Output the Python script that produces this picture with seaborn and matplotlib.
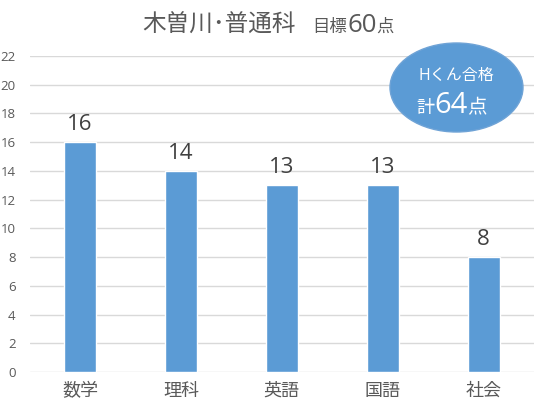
import matplotlib
matplotlib.use("Agg")
import matplotlib.pyplot as plt
from matplotlib.patches import Ellipse
import pandas as pd
import seaborn as sns

subjects = ["数学", "理科", "英語", "国語", "社会"]
scores = [16, 14, 13, 13, 8]
y_ticks = list(range(0, 23, 2))

sns.set_theme(style="whitegrid")
plt.rcParams["font.family"] = ["Open Sans", "Noto Sans CJK JP", "DejaVu Sans"]

W, H = 550, 411
df = pd.DataFrame({"subject": subjects, "score": scores})

fig = plt.figure(figsize=(W / 100, H / 100), dpi=100)
# plot area in pixels: x 29.5..534, y 56..372
ax = fig.add_axes([29.5 / W, 1 - 372 / H, (534 - 29.5) / W, (372 - 56) / H])

sns.barplot(data=df, x="subject", y="score", color="#5B9BD5", width=0.317,
            saturation=1, ax=ax)

for i, v in enumerate(scores):
    ax.annotate(str(v), (i, v), xytext=(0, 5), textcoords="offset points",
                ha="center", va="bottom", fontsize=16, color="#404040")

ax.set_ylim(0, 22)
ax.set_yticks(y_ticks)
ax.set_xlim(-0.5, len(subjects) - 0.5)
ax.set_xlabel("")
ax.set_ylabel("")
ax.grid(axis="y", color="#d9d9d9", linewidth=1)
ax.grid(axis="x", visible=False)
for s in ax.spines.values():
    s.set_visible(False)
ax.tick_params(axis="y", labelsize=9.5, labelcolor="#595959", length=0, pad=10)
ax.tick_params(axis="x", labelsize=13, labelcolor="#595959", length=0, pad=7)
ax.set_axisbelow(True)

fig.canvas.draw()
r = fig.canvas.get_renderer()


def run_text(x_px, base_px, parts, color):
    # parts: (text, size) pieces, or a number = extra gap in pixels
    x = x_px / W
    for p in parts:
        if not isinstance(p, tuple):
            x += p / W
            continue
        txt, fs = p
        t = fig.text(x, 1 - base_px / H, txt, fontsize=fs, color=color,
                     ha="left", va="baseline")
        x += t.get_window_extent(renderer=r).width / fig.bbox.width


# title in pieces of different sizes
run_text(142, 32, [("木曽川･普通科", 17), 17, ("目標", 12.5), ("60", 18.5), ("点", 12.5)],
         "#595959")

# badge
ell = Ellipse((456.5 / W, 1 - 87.5 / H), 133 / W, 89 / H, transform=fig.transFigure,
              facecolor="#5B9BD5", edgecolor="#6FA3D6", linewidth=1)
fig.add_artist(ell)
fig.text(456 / W, 1 - 76 / H, "Hくん合格", fontsize=11.5, color="white",
         ha="center", va="center")
run_text(416, 113, [("計", 13), ("64", 21), ("点", 14)], "white")

fig.savefig("out.png", dpi=100)
